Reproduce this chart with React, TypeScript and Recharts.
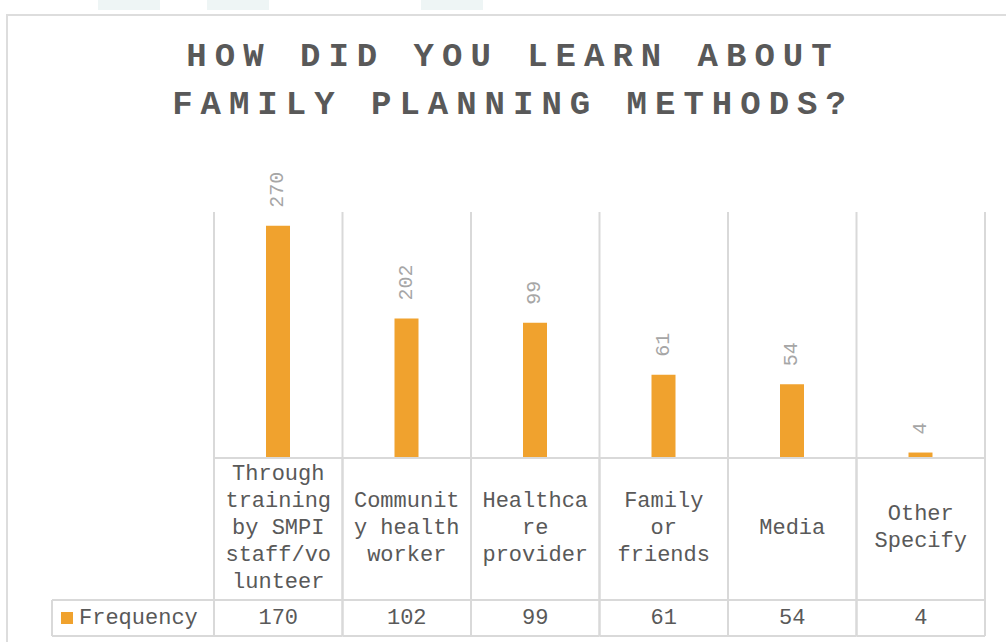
import { BarChart, Bar, XAxis, YAxis, CartesianGrid, LabelList } from "recharts";

const categories = [
  "Through training by SMPI staff/volunteer",
  "Community health worker",
  "Healthcare provider",
  "Family or friends",
  "Media",
  "Other Specify",
];
// wrapped the way the data table shows them
const categoryLines = [
  ["Through", "training", "by SMPI", "staff/vo", "lunteer"],
  ["Communit", "y health", "worker"],
  ["Healthca", "re", "provider"],
  ["Family", "or", "friends"],
  ["Media"],
  ["Other", "Specify"],
];
const frequency = [170, 102, 99, 61, 54, 4];
const barLabels = ["270", "202", "99", "61", "54", "4"];

const data = categories.map((name, i) => ({
  name,
  value: frequency[i],
  label: barLabels[i],
}));

const WIDTH = 1006;
const HEIGHT = 642;
const MARGIN = { top: 212, right: 21, bottom: 0, left: 214 };
const CELL_W = (WIDTH - MARGIN.left - MARGIN.right) / categories.length;
const FONT = "'Liberation Mono', 'Courier New', monospace";
const GRID = "#D9D9D9";
const TEXT = "#595959";
const ORANGE = "#F0A22E";

const TableTick = (props: any) => {
  const { x, y, payload } = props;
  const i = payload.index;
  const lines = categoryLines[i];
  const left = x - CELL_W / 2;
  const right = x + CELL_W / 2;
  const mid = y + 70;
  const start = mid - ((lines.length - 1) * 27) / 2;
  return (
    <g>
      <line x1={left} x2={left} y1={y} y2={y + 178} stroke={GRID} strokeWidth={2} />
      <line x1={right} x2={right} y1={y} y2={y + 178} stroke={GRID} strokeWidth={2} />
      <line x1={left} x2={right} y1={y + 142} y2={y + 142} stroke={GRID} strokeWidth={2} />
      <line x1={left} x2={right} y1={y + 178} y2={y + 178} stroke={GRID} strokeWidth={2} />
      {lines.map((l: string, k: number) => (
        <text
          key={k}
          x={x}
          y={start + k * 27}
          textAnchor="middle"
          dominantBaseline="central"
          fontSize={22}
          fontFamily={FONT}
          fill={TEXT}
        >
          {l}
        </text>
      ))}
      <text
        x={x}
        y={y + 160}
        textAnchor="middle"
        dominantBaseline="central"
        fontSize={22}
        fontFamily={FONT}
        fill={TEXT}
      >
        {frequency[i]}
      </text>
      {i === 0 && (
        <g>
          <line x1={52} x2={left} y1={y + 142} y2={y + 142} stroke={GRID} strokeWidth={2} />
          <line x1={52} x2={left} y1={y + 178} y2={y + 178} stroke={GRID} strokeWidth={2} />
          <line x1={52} x2={52} y1={y + 142} y2={y + 178} stroke={GRID} strokeWidth={2} />
          <rect x={61} y={y + 154} width={12} height={12} fill={ORANGE} />
          <text
            x={79}
            y={y + 160}
            dominantBaseline="central"
            fontSize={22}
            fontFamily={FONT}
            fill={TEXT}
          >
            Frequency
          </text>
        </g>
      )}
    </g>
  );
};

const VerticalLabel = (props: any) => {
  const { x, y, width, value } = props;
  const cx = x + width / 2;
  const ty = y - 18;
  return (
    <text
      x={cx}
      y={ty}
      transform={`rotate(-90, ${cx}, ${ty})`}
      textAnchor="start"
      dominantBaseline="central"
      fontSize={20}
      fontFamily={FONT}
      fill="#A6A6A6"
    >
      {value}
    </text>
  );
};

const App = () => {
  return (
    <div
      style={{
        position: "fixed",
        left: 0,
        top: 0,
        width: WIDTH,
        height: HEIGHT,
        background: "#fff",
        overflow: "hidden",
      }}
    >
      {/* faint page bits behind the chart */}
      <div style={{ position: "absolute", left: 98, top: 0, width: 62, height: 10, background: "#EEF5F5" }} />
      <div style={{ position: "absolute", left: 207, top: 0, width: 62, height: 10, background: "#EEF5F5" }} />
      <div style={{ position: "absolute", left: 421, top: 0, width: 62, height: 10, background: "#EEF5F5" }} />
      <div
        style={{
          position: "absolute",
          left: 6,
          top: 14,
          width: WIDTH,
          height: HEIGHT,
          borderLeft: "2px solid #DDDDDD",
          borderTop: "2px solid #DDDDDD",
        }}
      />
      <div
        style={{
          position: "absolute",
          left: 0,
          top: 33,
          width: WIDTH,
          paddingLeft: 20,
          boxSizing: "border-box",
          textAlign: "center",
          fontFamily: FONT,
          fontWeight: 700,
          fontSize: 34,
          letterSpacing: 8,
          lineHeight: "48px",
          color: TEXT,
        }}
      >
        HOW DID YOU LEARN ABOUT
        <br />
        FAMILY PLANNING METHODS?
      </div>
      <div style={{ position: "absolute", left: 0, top: 0 }}>
        <BarChart width={WIDTH} height={HEIGHT} data={data} margin={MARGIN}>
          <CartesianGrid
            horizontal={false}
            stroke={GRID}
            strokeWidth={2}
            verticalCoordinatesGenerator={({ offset }: any) =>
              categories.map((_, i) => offset.left + i * CELL_W).concat([offset.left + offset.width])
            }
          />
          <XAxis
            dataKey="name"
            height={184}
            interval={0}
            tickLine={false}
            tickSize={0}
            tickMargin={0}
            axisLine={{ stroke: GRID, strokeWidth: 2 }}
            tick={<TableTick />}
          />
          <YAxis hide domain={[0, 180]} />
          <Bar dataKey="value" fill={ORANGE} barSize={24} isAnimationActive={false}>
            <LabelList dataKey="label" content={<VerticalLabel />} />
          </Bar>
        </BarChart>
      </div>
    </div>
  );
};

export default App;
